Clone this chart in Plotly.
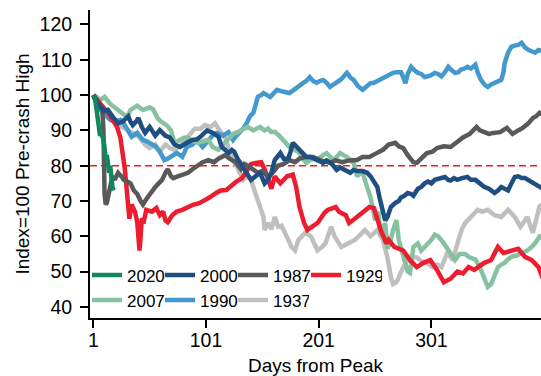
import plotly.graph_objects as go

# ---- data (index = 100 at pre-crash high) ----
days_2020 = [1, 2, 3, 4, 5, 6, 7, 8, 9, 10, 11, 12, 13, 14, 15, 16, 17, 18, 19]
vals_2020 = [100, 99.5, 98, 96, 94.5, 91, 88.5, 89, 88, 87.5, 85, 82, 83, 80, 78, 80, 76, 74, 73]

days_1987 = [1, 5, 9, 10, 11, 12, 13, 14, 16, 18, 20, 23, 26, 28, 31, 34, 37, 40, 43, 45, 48, 51, 54, 56, 59, 62, 65, 67, 70, 72, 76, 80, 85, 89, 94, 98, 103, 108, 112, 115, 118, 122, 127, 132, 135, 138, 142, 147, 151, 156, 160, 165, 170, 175, 180, 184, 190, 196, 203, 211, 216, 222, 228, 235, 240, 246, 252, 258, 263, 269, 272, 276, 280, 285, 288, 292, 297, 302, 306, 312, 318, 323, 329, 335, 341, 344, 347, 352, 356, 362, 368, 373, 378, 382, 387, 391, 394, 397, 400]
vals_1987 = [100, 97, 96, 90, 72, 69, 69.5, 71, 73, 77, 76, 78, 77, 76, 75.5, 75, 73, 72, 70, 69, 70.5, 72, 73, 74, 75, 76, 78, 79, 77, 76.5, 77, 77.5, 78, 79, 80, 81, 81.6, 81, 82, 82.5, 83, 82, 81, 79, 80.5, 80, 79, 78, 78.5, 77, 78, 80, 80.5, 81.6, 81, 82, 82.5, 82.5, 81.5, 80.8, 81.5, 81, 81.5, 81.6, 82.5, 82.5, 83.5, 84.5, 86, 86.5, 85.5, 85, 83, 81, 80.8, 82, 83.6, 84, 85, 85.5, 85.3, 86.5, 88, 89, 91, 90, 89.6, 89, 89.3, 89.5, 90.7, 89, 90, 90.7, 92, 93.5, 94, 95, 94.5]

days_1929 = [1, 5, 10, 14, 18, 22, 25, 27, 29, 31, 33, 35, 38, 40, 41, 42, 43, 44, 46, 48, 53, 57, 60, 63, 65, 67, 71, 75, 80, 85, 90, 95, 100, 104, 110, 114, 119, 124, 128, 133, 136, 141, 145, 150, 153, 156, 159, 162, 167, 173, 178, 181, 184, 188, 191, 194, 200, 206, 209, 216, 219, 225, 228, 233, 240, 246, 250, 252, 256, 261, 263, 268, 276, 282, 288, 294, 300, 306, 312, 318, 324, 329, 334, 339, 348, 354, 360, 365, 372, 378, 384, 390, 396, 399, 400]
vals_1929 = [100, 98.5, 96.5, 95, 93, 91, 88, 84, 79, 72, 65, 69, 67, 64, 60, 56, 60, 65, 64.5, 67.5, 67, 68, 66, 67, 64.5, 64, 66, 67, 67.5, 68.3, 69, 69.4, 70.5, 71, 72.3, 73, 73.1, 74.5, 75.5, 76.5, 78, 80.5, 80.8, 81, 79, 76, 73.5, 77, 75, 77, 77.5, 74, 68.3, 63.8, 61.8, 62.5, 63.8, 66.6, 67.5, 68.3, 67, 66, 63.8, 65, 66.6, 68.3, 68, 66, 61.8, 58, 59, 57, 56, 53.3, 51.3, 52.5, 53.3, 50.5, 47, 48, 50, 49.5, 51.3, 50.5, 52.5, 53.3, 57, 55.3, 56, 56.5, 54.2, 53.3, 51.3, 48.5, 48]

days_1937 = [1, 7, 11, 16, 20, 25, 30, 34, 38, 42, 47, 51, 56, 60, 65, 69, 73, 78, 82, 87, 91, 96, 100, 105, 109, 113, 118, 122, 125, 128, 131, 134, 138, 141, 144, 147, 150, 152, 153, 156, 159, 162, 165, 168, 171, 174, 177, 180, 183, 186, 189, 194, 197, 200, 204, 207, 212, 215, 218, 221, 227, 233, 238, 242, 247, 253, 258, 260, 262, 265, 267, 269, 271, 276, 282, 288, 292, 297, 302, 306, 310, 315, 320, 325, 328, 331, 336, 342, 346, 351, 357, 363, 369, 375, 380, 386, 391, 394, 397, 400]
vals_1937 = [100, 97, 96, 94.5, 93, 91, 90.5, 89.5, 89, 88, 86, 85, 86, 84, 86, 85, 84.5, 85.5, 87, 89, 90.5, 90.5, 91.5, 91, 92, 90, 88, 84, 82, 80, 78, 76, 77, 76, 73, 70, 67, 65.5, 61.8, 63.8, 62, 65.5, 62.7, 63, 61, 59, 57, 56, 59, 60, 61, 60, 58, 56, 57, 58, 62.7, 60, 58.5, 57, 58, 59, 60.5, 61.8, 60, 61.8, 59, 57, 54, 48.5, 46.5, 46.8, 47.6, 51.3, 54.2, 54, 53, 52.4, 51.3, 52, 51.3, 55.3, 53.3, 59, 62, 63.8, 65.5, 67.5, 67, 67.5, 66, 65.5, 67.5, 65.5, 62.7, 65.5, 61, 65, 68.5, 69]

days_2007 = [1, 4, 7, 11, 16, 20, 25, 28, 31, 34, 37, 40, 45, 48, 51, 54, 56, 58, 61, 66, 70, 73, 76, 78, 82, 85, 89, 94, 98, 103, 107, 112, 115, 118, 122, 125, 129, 132, 135, 138, 143, 146, 149, 153, 156, 159, 162, 166, 169, 172, 175, 180, 184, 187, 190, 193, 196, 199, 202, 205, 208, 211, 214, 217, 220, 223, 226, 229, 232, 235, 238, 240, 242, 244, 247, 249, 251, 254, 256, 258, 260, 262, 265, 267, 270, 272, 275, 278, 280, 282, 285, 289, 292, 295, 298, 301, 304, 307, 311, 316, 319, 322, 326, 331, 335, 340, 345, 348, 351, 354, 357, 360, 363, 366, 369, 372, 376, 381, 386, 390, 393, 397, 400]
vals_2007 = [100, 99.5, 98.6, 99.5, 97.5, 96.5, 95, 94.5, 93.8, 95.8, 96.5, 97, 95.8, 96, 96.5, 96, 94.9, 93.5, 92.5, 91.5, 90, 86.5, 87, 87.3, 88, 87.9, 87, 86.5, 87, 87.3, 85.3, 84.5, 85.5, 86.5, 88, 89, 89.5, 90, 90.5, 91, 90, 90.5, 91, 90, 90.5, 89.5, 89.6, 88.5, 87.3, 86, 85.3, 84.5, 83.6, 82, 80.8, 81.5, 82, 81.6, 82.5, 83, 83.6, 82.5, 81.6, 82.5, 83.6, 83, 82.5, 81.5, 80.8, 77, 78, 77.9, 76, 74, 71, 68, 64.6, 67, 60, 62, 63.8, 56.5, 59, 61.8, 64.6, 59, 56, 52.5, 50, 49.6, 57, 58, 56, 57, 58, 59, 60.5, 60, 58.5, 56, 54.5, 53.3, 55, 55, 54, 53.5, 50.5, 48, 45.7, 46.5, 49, 51.3, 52, 52.5, 53.5, 54.2, 54.5, 55.3, 56, 57, 58, 60, 59.5]

days_2000 = [1, 4, 7, 11, 14, 18, 23, 27, 32, 34, 36, 39, 41, 44, 47, 51, 56, 60, 65, 69, 73, 78, 81, 84, 89, 93, 96, 102, 107, 112, 115, 118, 121, 124, 126, 129, 131, 134, 136, 139, 141, 145, 149, 151, 153, 156, 159, 162, 165, 167, 170, 174, 176, 178, 181, 184, 187, 190, 194, 198, 202, 205, 208, 211, 214, 217, 220, 223, 226, 229, 232, 235, 240, 244, 247, 249, 251, 253, 255, 256, 258, 260, 262, 265, 267, 269, 272, 274, 277, 280, 283, 285, 287, 289, 292, 295, 298, 301, 304, 308, 313, 316, 318, 321, 324, 328, 333, 336, 340, 344, 348, 352, 357, 360, 363, 366, 369, 372, 375, 378, 381, 384, 387, 390, 393, 397, 400]
vals_2000 = [100, 98, 96.7, 95.5, 95.8, 94, 92, 92.5, 94, 92.5, 91.5, 92.5, 93.5, 91, 89.3, 91, 88.5, 90.1, 88.5, 88, 86, 85.3, 86, 86.5, 87.3, 87.5, 88.2, 90, 89.3, 88.2, 85.3, 84.5, 83.6, 84.5, 84, 82, 81, 79.5, 78, 76.5, 76, 77, 78, 76.5, 75, 76, 78, 81.6, 83, 83.6, 82, 82, 84, 86.5, 85.5, 84.5, 83.5, 82.5, 82.5, 82, 81.5, 80.8, 81.5, 81, 80, 78.8, 79.5, 79, 78.5, 78, 78.8, 78.5, 78.5, 78, 77, 76, 75, 74, 71, 70, 67, 64.5, 65.5, 68.3, 69, 69.5, 70, 71, 71.5, 72.3, 72, 71.5, 72.5, 73.5, 74, 75, 75.5, 75, 76, 76.5, 76.8, 76, 75.8, 76.5, 76, 76.5, 76.8, 76, 76, 75, 74, 73.5, 72.3, 73, 74, 73.5, 73, 75, 76.8, 77, 76.5, 76.5, 76, 75.5, 75, 74, 73.5]

days_1990 = [1, 4, 7, 11, 16, 20, 25, 28, 32, 35, 40, 45, 48, 51, 56, 60, 64, 67, 69, 72, 75, 80, 84, 89, 93, 98, 101, 105, 108, 111, 116, 121, 125, 128, 131, 134, 137, 140, 143, 145, 147, 150, 152, 155, 158, 161, 164, 169, 172, 175, 179, 182, 187, 190, 193, 196, 199, 202, 205, 208, 211, 214, 217, 221, 226, 229, 232, 236, 240, 244, 247, 250, 253, 258, 262, 267, 270, 274, 276, 278, 280, 283, 286, 289, 292, 295, 300, 304, 307, 310, 313, 316, 319, 322, 325, 327, 330, 333, 336, 340, 342, 345, 348, 351, 354, 357, 360, 363, 365, 366, 369, 372, 375, 378, 381, 384, 387, 390, 393, 396, 400]
vals_1990 = [100, 98, 96, 94.5, 93, 92.5, 93, 92, 89.5, 88.2, 89.3, 87.3, 87, 86.5, 85.5, 84, 81.6, 82, 82.5, 83, 83.6, 82.5, 85.3, 86, 87.3, 85.3, 86.5, 88.2, 89, 89.3, 88.5, 89.5, 87.3, 88.5, 89.3, 90.5, 92, 94, 95, 97.5, 99.5, 100, 100.6, 100, 99.5, 100.5, 101.5, 101, 100.8, 100.6, 101.5, 102.3, 103.4, 104, 105.1, 104, 103.5, 104, 104.3, 103.5, 102.3, 103, 103.5, 104.5, 106.3, 105, 104.3, 102.5, 101.5, 102.5, 103.4, 103.5, 104, 105.1, 105.5, 106.3, 106.5, 106.5, 105, 103.4, 106, 108, 107, 106.3, 106, 105.1, 105.5, 106.3, 106, 105.3, 106.5, 108, 107, 106.3, 106.5, 107.2, 107.5, 108, 107.5, 108.6, 106.5, 104.3, 103, 102.3, 103, 103.4, 104, 104.3, 106.5, 109, 112, 113.7, 114, 114.2, 114.8, 113.5, 112.8, 112.5, 112, 112.8, 112.5]

# drawing order: first = bottom layer
series = [
    ("1937", days_1937, vals_1937, "#bfbfbf", "legend2"),
    ("1990", days_1990, vals_1990, "#4399cc", "legend2"),
    ("2007", days_2007, vals_2007, "#86c2a0", "legend2"),
    ("1929", days_1929, vals_1929, "#ed1c2e", "legend"),
    ("1987", days_1987, vals_1987, "#595959", "legend"),
    ("2000", days_2000, vals_2000, "#1f4e82", "legend"),
    ("2020", days_2020, vals_2020, "#13875c", "legend"),
]

x_ticks = [1, 101, 201, 301]
y_ticks = [40, 50, 60, 70, 80, 90, 100, 110, 120]
ref_level = 80

FONT = "Liberation Sans, Arial, sans-serif"

fig = go.Figure()
for name, xs, ys, color, lg in series:
    fig.add_trace(go.Scatter(
        x=xs, y=ys, name=name, mode="lines",
        line=dict(color=color, width=4.5),
        legend=lg,
    ))

fig.add_shape(type="line", xref="paper", x0=0, x1=1, yref="y",
              y0=ref_level, y1=ref_level, layer="below",
              line=dict(color="#ee1c1c", width=1.5, dash="7px,4px"))

axis_common = dict(
    showline=True, linecolor="black", linewidth=2,
    ticks="outside", ticklen=8, tickwidth=2, tickcolor="black",
    showgrid=False, zeroline=False,
    tickfont=dict(family=FONT, size=19.5, color="black"),
)

legend_common = dict(
    orientation="h", traceorder="reversed",
    font=dict(family=FONT, size=17, color="black"),
    bgcolor="rgba(0,0,0,0)", entrywidth=31, entrywidthmode="pixels",
    indentation=-3,
    xanchor="left", yanchor="top", x=0,
)

fig.update_layout(
    width=541, height=376,
    margin=dict(l=90, r=0, t=10, b=58, autoexpand=False),
    paper_bgcolor="white", plot_bgcolor="white",
    font=dict(family=FONT, color="black"),
    hovermode=False,
    xaxis=dict(range=[-1.93, 398.25], tickvals=x_ticks, ticklabelstandoff=-4,
               title=dict(text="Days from Peak", font=dict(family=FONT, size=19), standoff=10),
               automargin=False, **axis_common),
    yaxis=dict(range=[36.88, 124.1], tickvals=y_ticks, ticklabelstandoff=4,
               title=dict(text="Index=100 Pre-crash High", font=dict(family=FONT, size=19), standoff=5),
               automargin=False, **axis_common),
    legend=dict(y=0.1965, **legend_common),
    legend2=dict(y=0.1155, **legend_common),
)

fig.write_html(
    "out.html",
    config={"displayModeBar": False},
    post_script="document.body.style.margin='0px';document.body.style.overflow='hidden';",
)
